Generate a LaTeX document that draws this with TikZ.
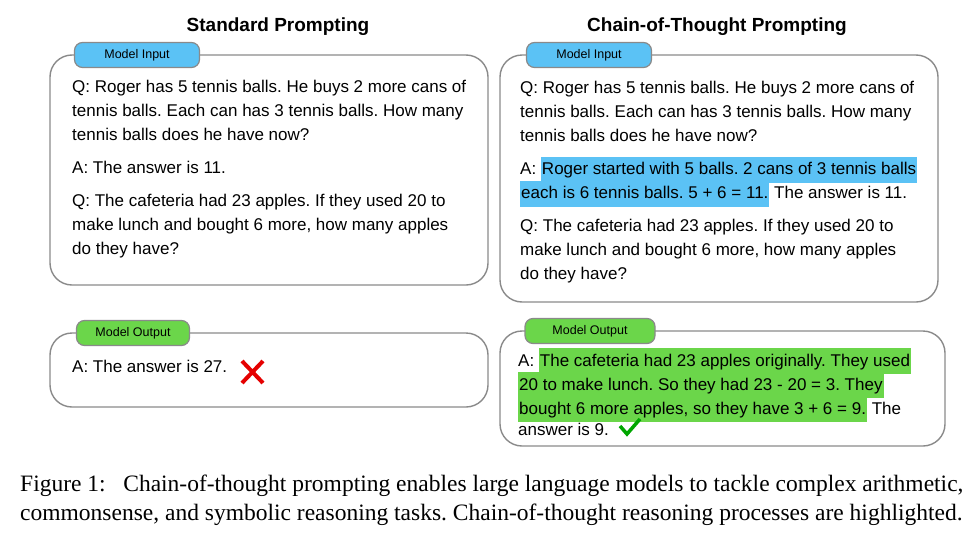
\documentclass[tikz,border=0pt]{standalone}
\usepackage{fontspec}
\setmainfont{Liberation Serif}
\newfontfamily\arial{Liberation Sans}
\usetikzlibrary{positioning}
\frenchspacing
\definecolor{tagblue}{HTML}{5BC2F5}
\definecolor{taggreen}{HTML}{6BD64A}
\definecolor{hlblue}{HTML}{5BC2F5}
\definecolor{hlgreen}{HTML}{6BD64A}
\definecolor{edge}{HTML}{8A8A8A}
\newcommand{\hlb}[1]{{\setlength\fboxsep{1pt}\colorbox{hlblue}{\strut #1}}}
\newcommand{\hlg}[1]{{\setlength\fboxsep{1pt}\colorbox{hlgreen}{\strut #1}}}
\begin{document}
\begin{tikzpicture}[
    x=1pt, y=-1pt,
    panel/.style={draw=edge, line width=1.4pt, rounded corners=22pt},
    tag/.style={draw=edge, line width=1.2pt, rounded corners=8pt, minimum height=25pt, font=\arial\fontsize{12.5}{14}\selectfont, inner xsep=0pt},
    body/.style={anchor=north west, align=left, inner sep=0pt, font=\arial\fontsize{17}{24}\selectfont},
    head/.style={font=\arial\bfseries\fontsize{19}{22}\selectfont}
]
\useasboundingbox (0,0) rectangle (980,541);
% titles
\node[head] (stdtitle) at (278,27) {Standard Prompting};
\node[head] (cottitle) at (717,27) {Chain-of-Thought Prompting};
% panels
\draw[panel] (50,55) rectangle (488,285);
\draw[panel] (500,55) rectangle (938,302);
\draw[panel] (50,333) rectangle (488,407);
\draw[panel] (500,331) rectangle (945,446);
% tags
\node[tag, fill=tagblue, minimum width=125pt] (stdin) at (137,55) {Model Input};
\node[tag, fill=tagblue, minimum width=125pt] (cotin) at (589,55) {Model Input};
\node[tag, fill=taggreen, minimum width=113pt] (stdout) at (133,333) {Model Output};
\node[tag, fill=taggreen, minimum width=130pt] (cotout) at (590,331) {Model Output};
% standard prompting text
\node[body] (stdq) at (72,80) {Q: Roger has 5 tennis balls. He buys 2 more cans of\\
tennis balls. Each can has 3 tennis balls. How many\\
tennis balls does he have now?\\[9pt]
A: The answer is 11.\\[9pt]
Q: The cafeteria had 23 apples. If they used 20 to\\
make lunch and bought 6 more, how many apples\\
do they have?};
\node[body] (stda) at (72,360) {A: The answer is 27.};
% chain-of-thought text
\node[body] (cotq) at (520,81) {Q: Roger has 5 tennis balls. He buys 2 more cans of\\
tennis balls. Each can has 3 tennis balls. How many\\
tennis balls does he have now?\\[9pt]
A: \hlb{Roger started with 5 balls. 2 cans of 3 tennis balls}\\[-3pt]
\hlb{each is 6 tennis balls. 5 + 6 = 11.} The answer is 11.\\[9pt]
Q: The cafeteria had 23 apples. If they used 20 to\\
make lunch and bought 6 more, how many apples\\
do they have?};
\node[body] (cota) at (518,348) {A: \hlg{The cafeteria had 23 apples originally. They used}\\[-3pt]
\hlg{20 to make lunch. So they had 23 - 20 = 3. They}\\[-3pt]
\hlg{bought 6 more apples, so they have 3 + 6 = 9.} The\\[-3pt]
answer is 9.};
% marks
\draw[red!90!black, line width=4pt] (242,361) -- (263,383) (263,361) -- (242,383);
\draw[green!65!black, line width=3.5pt] (620,426) -- (627,434) -- (640,419);
% caption
\node[anchor=west, inner sep=0pt, font=\fontsize{23.5}{26}\selectfont] (cap1) at (20,486) {Figure 1:\enspace\ Chain-of-thought prompting enables large language models to tackle complex arithmetic,};
\node[anchor=west, inner sep=0pt, font=\fontsize{23.5}{26}\selectfont] (cap2) at (20,515) {commonsense, and symbolic reasoning tasks. Chain-of-thought reasoning processes are highlighted.};
\end{tikzpicture}
\end{document}
